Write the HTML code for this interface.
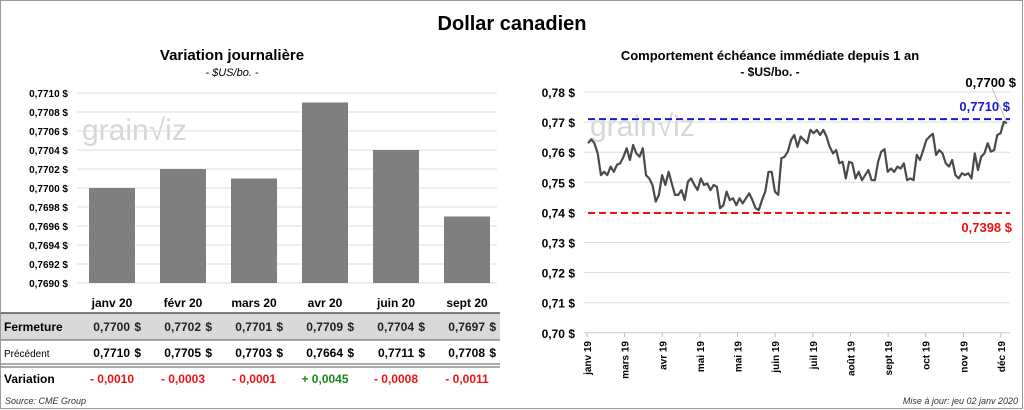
<!DOCTYPE html>
<html><head><meta charset="utf-8">
<style>
html,body{margin:0;padding:0;background:#fff;}
svg{display:block;font-family:"Liberation Sans",sans-serif;}
</style></head>
<body>
<svg id="c" width="1024" height="410" viewBox="0 0 1024 410" xmlns="http://www.w3.org/2000/svg">
<rect x="0.5" y="0.5" width="1022" height="408" fill="#fff" stroke="#999"/>
<text x="512" y="30" text-anchor="middle" font-size="20" font-weight="bold">Dollar canadien</text>
<text x="232" y="60" text-anchor="middle" font-size="15" font-weight="bold">Variation  journalière</text>
<text x="232" y="76" text-anchor="middle" font-size="11" font-style="italic">- $US/bo. -</text>
<text x="770" y="60" text-anchor="middle" font-size="13" font-weight="bold">Comportement échéance immédiate depuis 1 an</text>
<text x="770" y="76" text-anchor="middle" font-size="12" font-weight="bold">- $US/bo. -</text>
<text x="82" y="140" font-size="30" fill="#d6d6d6">grain√iz</text>
<text x="590" y="136" font-size="30" fill="#d6d6d6">grain√iz</text>
<g id="left"></g>
<g id="table"></g>
<g id="right"></g>
<text x="5" y="404" font-size="9" font-style="italic" fill="#333">Source: CME Group</text>
<text x="1018" y="404" text-anchor="end" font-size="9" font-style="italic" fill="#333">Mise à jour: jeu 02 janv 2020</text>
</svg>
<script>
const barCats = ["janv 20","févr 20","mars 20","avr 20","juin 20","sept 20"];
const closeVals = [0.7700,0.7702,0.7701,0.7709,0.7704,0.7697];
const prevVals = [0.7710,0.7705,0.7703,0.7664,0.7711,0.7708];
const varVals = [-0.0010,-0.0003,-0.0001,0.0045,-0.0008,-0.0011];
const leftTicks = [0.7690,0.7692,0.7694,0.7696,0.7698,0.7700,0.7702,0.7704,0.7706,0.7708,0.7710];
const rightTicks = [0.70,0.71,0.72,0.73,0.74,0.75,0.76,0.77,0.78];
const dateLabels = ["janv 19","mars 19","avr 19","mai 19","mai 19","juin 19","juil 19","août 19","sept 19","oct 19","nov 19","déc 19"];
const highVal = 0.7710, lowVal = 0.7398, lastVal = 0.7700;
const series = [0.7630,0.7643,0.7630,0.7596,0.7524,0.7535,0.7524,0.7552,0.7535,0.7558,0.7563,0.7585,0.7613,0.7574,0.7624,0.7596,0.7585,0.7613,0.7524,0.7513,0.7491,0.7436,0.7458,0.7524,0.7491,0.7535,0.7496,0.7458,0.7458,0.7474,0.7441,0.7502,0.7513,0.7491,0.7474,0.7513,0.7491,0.7496,0.7474,0.7491,0.7485,0.7414,0.7424,0.7469,0.7441,0.7447,0.7424,0.7447,0.7430,0.7447,0.7463,0.7441,0.7414,0.7408,0.7441,0.7469,0.7535,0.7535,0.7469,0.7458,0.7580,0.7585,0.7602,0.7641,0.7657,0.7618,0.7652,0.7641,0.7630,0.7674,0.7663,0.7674,0.7657,0.7674,0.7652,0.7618,0.7596,0.7607,0.7563,0.7568,0.7513,0.7568,0.7563,0.7513,0.7535,0.7507,0.7524,0.7541,0.7507,0.7507,0.7568,0.7602,0.7610,0.7535,0.7546,0.7535,0.7552,0.7546,0.7563,0.7507,0.7513,0.7507,0.7591,0.7574,0.7607,0.7641,0.7652,0.7661,0.7591,0.7607,0.7596,0.7563,0.7552,0.7574,0.7524,0.7513,0.7530,0.7524,0.7530,0.7513,0.7596,0.7541,0.7585,0.7596,0.7630,0.7602,0.7607,0.7657,0.7663,0.7701,0.7696];

const NS="http://www.w3.org/2000/svg";
function mk(tag,parent,attrs,txt){const e=document.createElementNS(NS,tag);for(const k in attrs)e.setAttribute(k,attrs[k]);if(txt!==undefined)e.textContent=txt;parent.appendChild(e);return e;}
const fmt4=v=>v.toFixed(4).replace('.',',');

const L=document.getElementById('left');
const ly=v=>283-(v-0.7690)/0.0020*190;
const bx=i=>112+i*71;
leftTicks.forEach(t=>{
  const g=mk('line',L,{x1:77,x2:497,y1:ly(t),y2:ly(t),stroke:'#ddd','stroke-width':1});
  
  
  const tx=mk('text',L,{x:68,y:ly(t)+4,'text-anchor':'end','font-size':10,'font-weight':'bold'},fmt4(t)+' $');
  
  
});
closeVals.forEach((v,i)=>{
  const r=mk('rect',L,{x:bx(i)-23,y:ly(v),width:46,height:283-ly(v),fill:'#7f7f7f'});
  
  
});

const T=document.getElementById('table');
mk('rect',T,{x:1,y:313,width:499,height:27,fill:'#d9d9d9'});
mk('line',T,{x1:1,x2:500,y1:313,y2:313,stroke:'#555','stroke-width':1.5});
mk('line',T,{x1:1,x2:500,y1:340,y2:340,stroke:'#555','stroke-width':1});
mk('line',T,{x1:1,x2:500,y1:364,y2:364,stroke:'#555','stroke-width':1});
mk('line',T,{x1:1,x2:500,y1:367,y2:367,stroke:'#555','stroke-width':1});
barCats.forEach((c,i)=>{
  const h=mk('text',T,{x:bx(i),y:307,'text-anchor':'middle','font-size':12,'font-weight':'bold'},c);
  
  
  const a=mk('text',T,{x:bx(i)+18,y:331,'text-anchor':'end','font-size':12,'font-weight':'bold',fill:'#222'},fmt4(closeVals[i]));
  
  
  mk('text',T,{x:bx(i)+29,y:331,'text-anchor':'end','font-size':12,'font-weight':'bold',fill:'#222'},'$');
  const b=mk('text',T,{x:bx(i)+18,y:357,'text-anchor':'end','font-size':12,'font-weight':'bold'},fmt4(prevVals[i]));
  
  
  mk('text',T,{x:bx(i)+29,y:357,'text-anchor':'end','font-size':12,'font-weight':'bold'},'$');
  const d=varVals[i];
  const s=(d>=0?'+ ':'- ')+Math.abs(d).toFixed(4).replace('.',',');
  const v=mk('text',T,{x:bx(i),y:383,'text-anchor':'middle','font-size':12,'font-weight':'bold',fill:d>=0?'#1a8a1a':'#ee1111'},s);
  
  
});
[['Fermeture',331,12,'bold'],['Précédent',357,10,'normal'],['Variation',383,12,'bold']].forEach(r=>{
  const e=mk('text',T,{x:4,y:r[1],'font-size':r[2],'font-weight':r[3]},r[0]);
  
  
});

const R=document.getElementById('right');
const ry=v=>92+(0.78-v)*3010;
const x0=588,x1=1007;
const rx=i=>x0+i*(x1-x0)/(series.length-1);
rightTicks.forEach(t=>{
  const g=mk('line',R,{x1:584,x2:1010,y1:ry(t),y2:ry(t),stroke:t===0.70?'#ccc':'#ddd','stroke-width':1});
  
  
  const tx=mk('text',R,{x:575,y:ry(t)+5,'text-anchor':'end','font-size':12,'font-weight':'bold'},t.toFixed(2).replace('.',',')+' $');
  
  
});
dateLabels.forEach((d,i)=>{
  const x=587+i*(1001-587)/(dateLabels.length-1);
  mk('line',R,{x1:x,x2:x,y1:333,y2:337,stroke:'#bbb'});
  const tx=mk('text',R,{x:0,y:0,transform:`translate(${x+4},341) rotate(-90)`,'text-anchor':'end','font-size':10,'font-weight':'bold'},d);
  
  
});
const hi=mk('line',R,{x1:588,x2:1010,y1:ry(highVal),y2:ry(highVal),stroke:'#1a1acc','stroke-width':2,'stroke-dasharray':'7,4'});


const lo=mk('line',R,{x1:588,x2:1010,y1:ry(lowVal),y2:ry(lowVal),stroke:'#ee1111','stroke-width':2,'stroke-dasharray':'7,4'});


const pts=series.map((v,i)=>rx(i).toFixed(1)+','+ry(v).toFixed(1)).join(' ');
const pl=mk('polyline',R,{points:pts,fill:'none',stroke:'#4a4a4a','stroke-width':2.2,'stroke-linejoin':'round'});


mk('line',R,{x1:rx(series.length-1),y1:ry(series[series.length-1]),x2:992,y2:88,stroke:'#999','stroke-width':0.6});
const t1=mk('text',R,{x:1016,y:87,'text-anchor':'end','font-size':13,'font-weight':'bold'},fmt4(lastVal)+' $');


const t2=mk('text',R,{x:1010,y:111,'text-anchor':'end','font-size':13,'font-weight':'bold',fill:'#1a1acc'},fmt4(highVal)+' $');


const t3=mk('text',R,{x:1012,y:232,'text-anchor':'end','font-size':13,'font-weight':'bold',fill:'#ee1111'},fmt4(lowVal)+' $');


</script>
</body></html>
